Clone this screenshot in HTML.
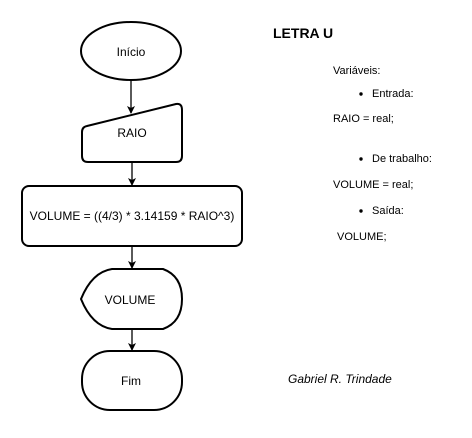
<!DOCTYPE html>
<html><head><style>
body{margin:0;background:#fff;width:472px;height:433px;overflow:hidden}
svg text{font-family:"Liberation Sans",sans-serif;fill:#000}
</style></head><body>
<svg width="472" height="433" viewBox="0 0 472 433">
<defs><marker id="a" markerWidth="8" markerHeight="8" refX="7" refY="4" orient="auto" markerUnits="userSpaceOnUse"><path d="M0,0 L8,4 L0,8 L2,4 Z" fill="#000"/></marker></defs>
<g fill="#fff" stroke="#000" stroke-width="2">
<ellipse cx="131" cy="51" rx="50" ry="29"/>
<path d="M87,126 L176,104 Q182,103 182,110 L182,156 Q182,162 176,162 L88,162 Q82,162 82,156 L82,132 Q82,127 87,126 Z"/>
<rect x="22" y="186" width="220" height="60" rx="7"/>
<path d="M81,299 Q92,272 112,269 L163,269 Q182,276 182,299 Q182,322 163,329 L112,329 Q92,326 81,299 Z"/>
<rect x="82" y="351" width="100" height="59" rx="28"/>
</g>
<g stroke="#000" stroke-width="1.3" fill="none">
<line x1="131" y1="80" x2="131" y2="113" marker-end="url(#a)"/>
<line x1="132" y1="162" x2="132" y2="185" marker-end="url(#a)"/>
<line x1="132" y1="246" x2="132" y2="268" marker-end="url(#a)"/>
<line x1="132" y1="329" x2="132" y2="350" marker-end="url(#a)"/>
</g>
<g font-size="12" text-anchor="middle" style="fill:#222">
<text x="131" y="56">Início</text>
<text x="132" y="137">RAIO</text>
<text x="132" y="220">VOLUME = ((4/3) * 3.14159 * RAIO^3)</text>
<text x="130" y="304">VOLUME</text>
<text x="131" y="385">Fim</text>
</g>
<text x="273" y="38" font-size="14" font-weight="bold">LETRA U</text>
<g font-size="11">
<text x="333" y="74">Variáveis:</text>
<circle cx="361" cy="94" r="1.7"/><text x="372" y="97">Entrada:</text>
<text x="333" y="122">RAIO = real;</text>
<circle cx="361" cy="159" r="1.7"/><text x="372" y="162">De trabalho:</text>
<text x="333" y="188">VOLUME = real;</text>
<circle cx="361" cy="211" r="1.7"/><text x="372" y="214">Saída:</text>
<text x="337" y="240">VOLUME;</text>
</g>
<text x="288" y="383" font-size="12" font-style="italic">Gabriel R. Trindade</text>
</svg>
</body></html>
